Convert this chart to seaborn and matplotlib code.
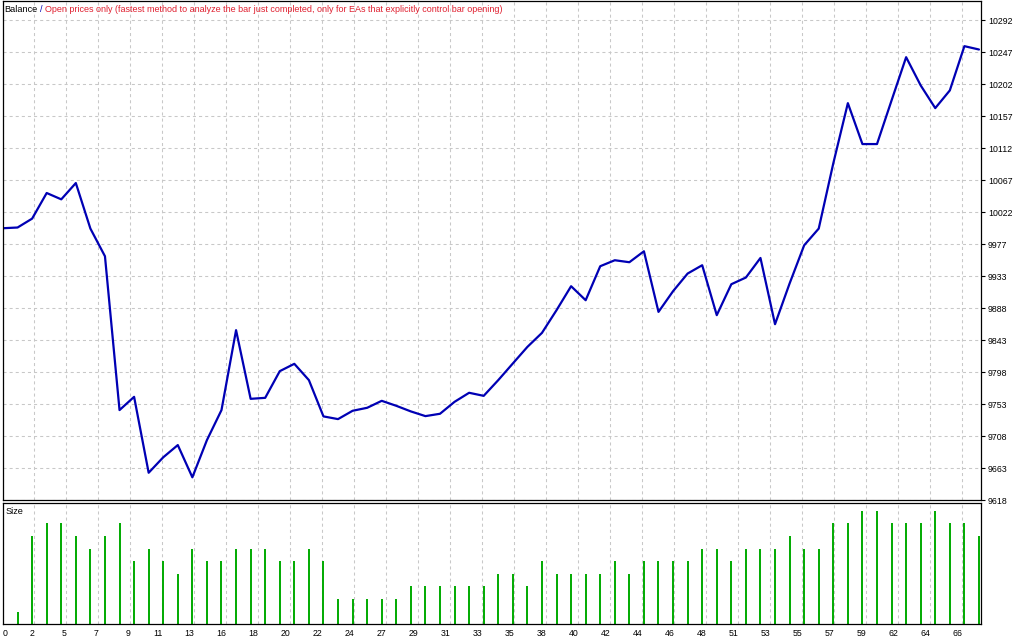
import numpy as np
import pandas as pd
import matplotlib.pyplot as plt
import seaborn as sns

# balance after each closed trade (trade 0 = initial deposit)
trade = list(range(68))
balance = [10000, 10001, 10013.5, 10049.5, 10040.6, 10063.5, 9999.5, 9960.6, 9744.4, 9763,
           9656.3, 9678, 9695.2, 9649.9, 9702.2, 9744.4, 9856.7, 9760.2, 9761.6, 9799.1,
           9809.4, 9786.5, 9735.5, 9731.7, 9743.4, 9747.6, 9757.4, 9750.4, 9742.5, 9735.9,
           9739.2, 9756, 9768.7, 9764.4, 9786.5, 9809.9, 9833.2, 9852.9, 9884.8, 9918.5,
           9898.8, 9946.6, 9955, 9952.2, 9967.6, 9882.4, 9911.5, 9936.3, 9948, 9877.8,
           9921.3, 9930.7, 9958.2, 9865.1, 9922.3, 9976, 9999.5, 10091.2, 10175.8, 10118.3,
           10118.3, 10179.6, 10240.4, 10200.7, 10168.8, 10193.7, 10255.9, 10251.2]

# position size of trades 1..67 (in 0.01 lots)
size_trade = list(range(1, 68))
size = [1, 7, 8, 8, 7, 6, 7, 8, 5, 6, 5, 4, 6, 5, 5, 6, 6, 6, 5, 5,
        6, 5, 2, 2, 2, 2, 2, 3, 3, 3, 3, 3, 3, 4, 4, 3, 5, 4, 4, 4,
        4, 5, 4, 5, 5, 5, 5, 6, 6, 5, 6, 6, 6, 7, 6, 6, 8, 8, 9, 9,
        8, 8, 8, 9, 8, 8, 7]

y_labels = ['9618', '9663', '9708', '9753', '9798', '9843', '9888', '9933',
            '9977', '10022', '10067', '10112', '10157', '10202', '10247', '10292']
x_labels = ['0', '2', '5', '7', '9', '11', '13', '16', '18', '20', '22', '24', '27',
            '29', '31', '33', '35', '38', '40', '42', '44', '46', '48', '51', '53',
            '55', '57', '59', '62', '64', '66']

df_bal = pd.DataFrame({'trade': trade, 'balance': balance})
df_size = pd.DataFrame({'trade': size_trade, 'size': size})

sns.set_style("white")
plt.rcParams['font.family'] = ['Liberation Sans', 'DejaVu Sans']
plt.rcParams['lines.scale_dashes'] = False

W, H = 1024, 640
fig = plt.figure(figsize=(W / 100, H / 100), dpi=100)
x0, x1 = 2.5, 981
ax = fig.add_axes([x0 / W, 1 - 500 / H, (x1 - x0) / W, 499.5 / H])
ax2 = fig.add_axes([x0 / W, 1 - 624.3 / H, (x1 - x0) / W, (624.3 - 502.5) / H])

grid_kw = dict(color='#C8C8C8', linestyle=(0, (2.2, 2.2)), linewidth=0.75)
xlim = (-0.02, 67.14)
xticks = np.arange(len(x_labels)) * 2.1963 - 0.034

# balance panel
sns.lineplot(data=df_bal, x='trade', y='balance', color='#0000B4', linewidth=1.6, ax=ax)
ymin, step = 9618, 44.933
ax.set_xlim(*xlim)
ax.set_ylim(ymin, ymin + 500 / 32 * step)
ax.set_yticks(ymin + step * np.arange(len(y_labels)))
ax.set_yticklabels(y_labels)
ax.yaxis.tick_right()
ax.tick_params(axis='y', length=3, width=0.8, pad=2, labelsize=6.3, colors='black', direction='out')
ax.set_xticks(xticks)
ax.tick_params(axis='x', length=0, labelbottom=False)
ax.grid(True, **grid_kw)
ax.set_axisbelow(True)
ax.set_xlabel('')
ax.set_ylabel('')

# size panel
ax2.vlines(df_size['trade'], 0, df_size['size'], color='#00AA00', linewidth=1.4)
ax2.set_xlim(*xlim)
ax2.set_ylim(0, 9.65)
ax2.set_yticks([])
ax2.set_xticks(xticks)
ax2.set_xticklabels(x_labels)
ax2.tick_params(axis='x', length=3, width=0.8, pad=0.5, labelsize=6.3, colors='black', direction='out')
for lbl in ax2.get_xticklabels():
    lbl.set_ha('right')
ax2.get_xticklabels()[0].set_ha('left')
ax2.grid(True, axis='x', **grid_kw)
ax2.set_axisbelow(True)

for a in (ax, ax2):
    for s in a.spines.values():
        s.set_color('black')
        s.set_linewidth(0.9)
        s.set_visible(True)

# header texts
base = 1 - 11.5 / H
fig.text(4 / W, base, 'Balance', color='black', fontsize=6.6, va='baseline')
fig.text(40 / W, base, '/', color='#0000B4', fontsize=6.6, va='baseline')
fig.text(45 / W, base, 'Open prices only (fastest method to analyze the bar just completed, '
         'only for EAs that explicitly control bar opening)', color='#E02030', fontsize=6.5,
         va='baseline')
fig.text(6 / W, 1 - 514.5 / H, 'Size', color='black', fontsize=6.6, va='baseline')

fig.savefig('out.png', dpi=100, facecolor='white')
